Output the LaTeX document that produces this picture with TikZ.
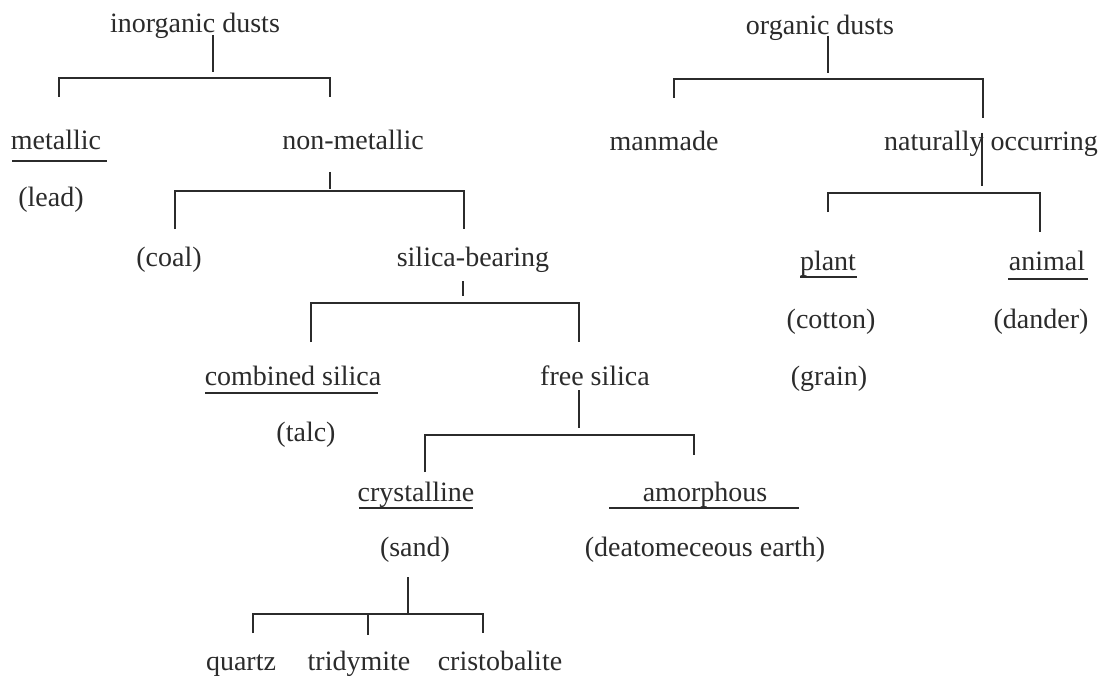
\documentclass[tikz,border=0pt]{standalone}
\usepackage{fontspec}
\setmainfont{Liberation Serif}
\begin{document}
\begin{tikzpicture}[x=1pt,y=-1pt,
  lbl/.style={inner sep=0pt,anchor=base,text=ink,font=\fontsize{28}{32}\selectfont},
  conn/.style={draw=ink,line width=1.4pt},
  uline/.style={draw=ink,line width=1.4pt}]
\definecolor{ink}{HTML}{2B2B2B}
\useasboundingbox[fill=white] (0,0) rectangle (1102,679);
% ---- nodes
\node[lbl] (inorg) at (195,33) {inorganic dusts};
\node[lbl] (org) at (820,35) {organic dusts};
\node[lbl] (metal) at (56,150) {metallic};
\node[lbl] (nonmet) at (353,150) {non-metallic};
\node[lbl] (manmade) at (664,151) {manmade};
\node[lbl] (natural) at (991,151) {naturally occurring};
\node[lbl] (lead) at (51,207) {(lead)};
\node[lbl] (coal) at (169,266) {(coal)};
\node[lbl] (silbear) at (473,266) {silica-bearing};
\node[lbl] (plant) at (828,270) {plant};
\node[lbl] (animal) at (1047,270) {animal};
\node[lbl] (cotton) at (831,328) {(cotton)};
\node[lbl] (dander) at (1041,328) {(dander)};
\node[lbl] (combsil) at (293,385) {combined silica};
\node[lbl] (freesil) at (595,385) {free silica};
\node[lbl] (grain) at (829,385) {(grain)};
\node[lbl] (talc) at (306,441) {(talc)};
\node[lbl] (cryst) at (416,501) {crystalline};
\node[lbl] (amorph) at (705,501) {amorphous};
\node[lbl] (sand) at (415,556) {(sand)};
\node[lbl] (deat) at (705,556) {(deatomeceous earth)};
\node[lbl] (quartz) at (241,670) {quartz};
\node[lbl] (trid) at (359,670) {tridymite};
\node[lbl] (crist) at (500,670) {cristobalite};
% ---- underlines
\draw[uline] (12,161) -- (107,161);
\draw[uline] (800,277) -- (857,277);
\draw[uline] (1008,279) -- (1088,279);
\draw[uline] (205,393) -- (378,393);
\draw[uline] (359,508) -- (473,508);
\draw[uline] (609,508) -- (799,508);
% ---- bracket points
\coordinate (inorgS) at (213,35);  \coordinate (inorgE) at (213,72);
\coordinate (inorgL) at (59,78);   \coordinate (inorgR) at (330,78);
\coordinate (metT) at (59,97);     \coordinate (nonmetT) at (330,97);
\coordinate (orgS) at (828,36);    \coordinate (orgE) at (828,73);
\coordinate (orgL) at (674,79);    \coordinate (orgR) at (983,79);
\coordinate (manT) at (674,98);    \coordinate (natT) at (983,118);
\coordinate (nonmetS) at (330,172);\coordinate (nonmetE) at (330,189);
\coordinate (nmL) at (175,191);    \coordinate (nmR) at (464,191);
\coordinate (coalT) at (175,229);  \coordinate (sbT) at (464,229);
\coordinate (natS) at (982,133);   \coordinate (natE) at (982,186);
\coordinate (natL) at (828,193);   \coordinate (natR) at (1040,193);
\coordinate (plantT) at (828,212); \coordinate (animalT) at (1040,232);
\coordinate (sbS) at (463,281);    \coordinate (sbE) at (463,296);
\coordinate (sbL) at (311,303);    \coordinate (sbR) at (579,303);
\coordinate (combT) at (311,342);  \coordinate (freeT) at (579,342);
\coordinate (fsS) at (579,390);    \coordinate (fsE) at (579,428);
\coordinate (fsL) at (425,435);    \coordinate (fsR) at (694,435);
\coordinate (crystT) at (425,472); \coordinate (amorT) at (694,455);
\coordinate (sandS) at (408,577);  \coordinate (sandE) at (408,614);
\coordinate (sdL) at (253,614);    \coordinate (sdM) at (368,614);
\coordinate (sdR) at (483,614);
\coordinate (quartzT) at (253,633);\coordinate (tridT) at (368,635);
\coordinate (cristT) at (483,633);
% ---- connectors
\draw[conn] (inorgS) -- (inorgE);
\draw[conn] (metT) -- (inorgL) -- (inorgR) -- (nonmetT);
\draw[conn] (orgS) -- (orgE);
\draw[conn] (manT) -- (orgL) -- (orgR) -- (natT);
\draw[conn] (nonmetS) -- (nonmetE);
\draw[conn] (coalT) -- (nmL) -- (nmR) -- (sbT);
\draw[conn] (natS) -- (natE);
\draw[conn] (plantT) -- (natL) -- (natR) -- (animalT);
\draw[conn] (sbS) -- (sbE);
\draw[conn] (combT) -- (sbL) -- (sbR) -- (freeT);
\draw[conn] (fsS) -- (fsE);
\draw[conn] (crystT) -- (fsL) -- (fsR) -- (amorT);
\draw[conn] (sandS) -- (sandE);
\draw[conn] (quartzT) -- (sdL) -- (sdR) -- (cristT);
\draw[conn] (sdM) -- (tridT);
\end{tikzpicture}
\end{document}
